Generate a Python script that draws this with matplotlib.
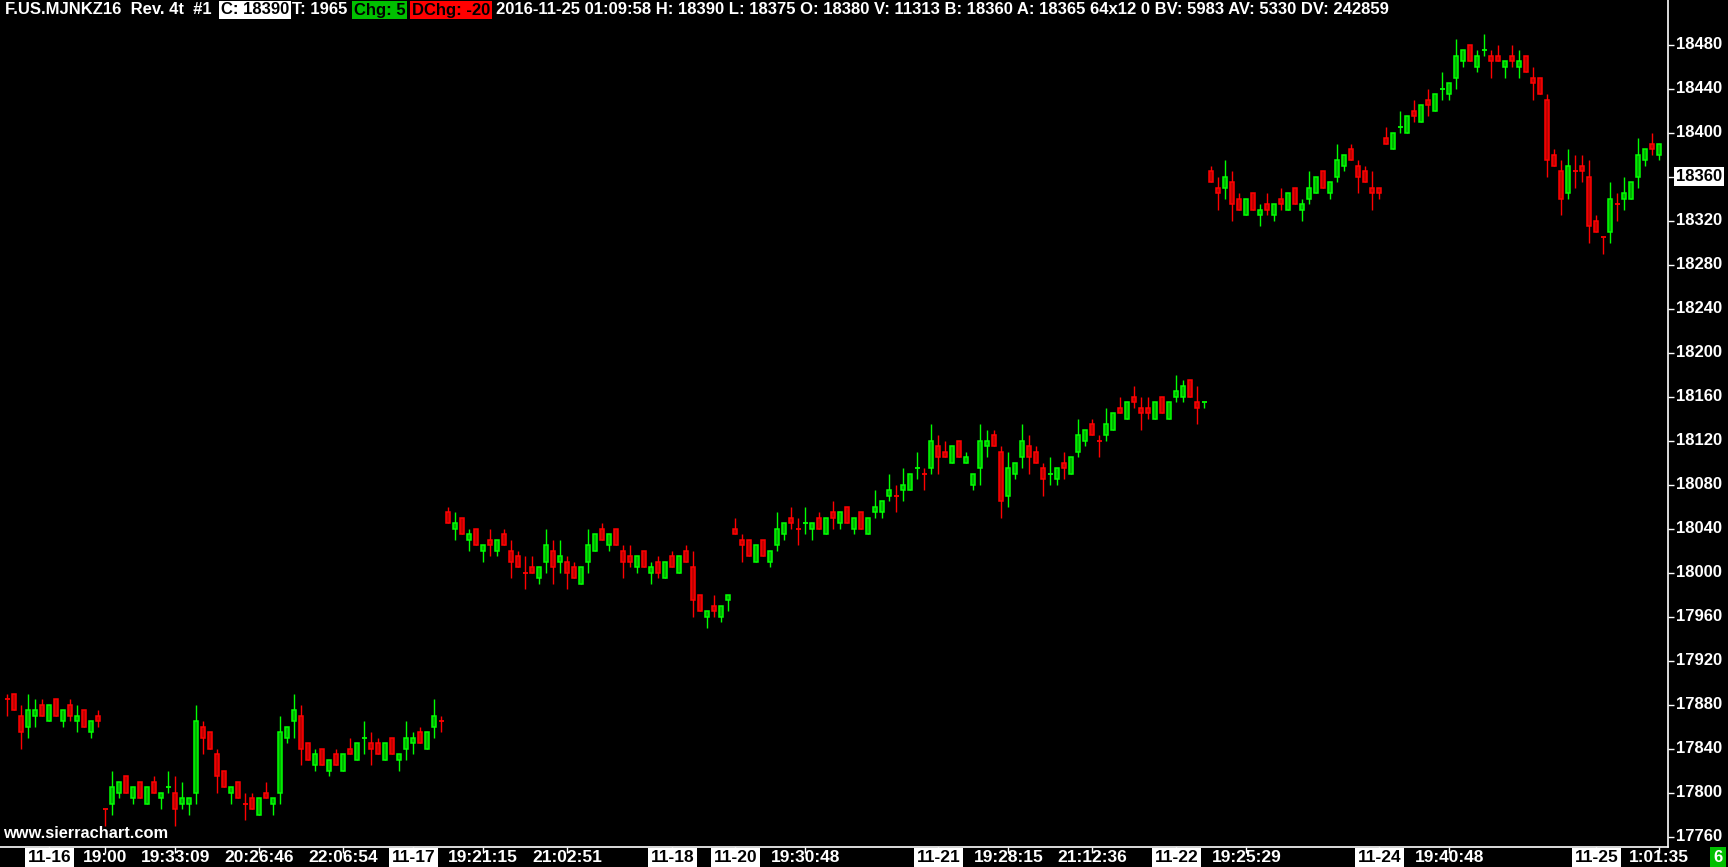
import matplotlib
matplotlib.use('Agg')
import matplotlib.pyplot as plt
import matplotlib.transforms as mtransforms
from matplotlib.patches import Rectangle
import numpy as np

# OHLC, one entry per bar (5-point ticks)
opens = [17885, 17890, 17870, 17860, 17870, 17880, 17865, 17885, 17865, 17880, 17865, 17875, 17855, 17870,
         17785, 17790, 17800, 17815, 17795, 17810, 17790, 17810, 17795, 17805, 17800, 17790, 17790, 17800,
         17860, 17855, 17835, 17820, 17800, 17810, 17790, 17795, 17780, 17800, 17790, 17800, 17850, 17865,
         17870, 17845, 17825, 17840, 17820, 17835, 17820, 17840, 17830, 17850, 17845, 17845, 17830, 17850,
         17830, 17840, 17845, 17855, 17840, 17860, 17865,
         18055, 18040, 18050, 18030, 18040, 18020, 18030, 18020, 18035, 18020, 18015, 18000, 18005, 17995,
         18010, 18020, 18010, 18010, 18005, 17990, 18010, 18020, 18040, 18025, 18040, 18020, 18015, 18005,
         18020, 18000, 18010, 17995, 18015, 18000, 18020, 18005, 17980, 17960, 17970, 17960, 17975,
         18040, 18030, 18030, 18010, 18030, 18010, 18025, 18035, 18050, 18040, 18045, 18040, 18050, 18035,
         18055, 18045, 18060, 18040, 18055, 18035, 18055, 18055, 18070, 18070, 18075, 18075, 18095, 18090,
         18095, 18115, 18110, 18100, 18120, 18100, 18080, 18095, 18115, 18125, 18110, 18070, 18090, 18105,
         18115, 18110, 18095, 18090, 18085, 18100, 18090, 18110, 18120, 18135, 18120, 18125, 18130, 18150,
         18140, 18160, 18150, 18150, 18140, 18160, 18140, 18160, 18160, 18175, 18155, 18155,
         18365, 18350, 18350, 18355, 18340, 18325, 18345, 18325, 18335, 18325, 18340, 18330, 18350, 18330,
         18340, 18345, 18365, 18345, 18360, 18370, 18385, 18370, 18365, 18350, 18350,
         18395, 18385, 18405, 18400, 18420, 18410, 18430, 18420, 18440, 18435, 18450, 18465, 18480, 18460,
         18475, 18470, 18470, 18460, 18470, 18460, 18470, 18450, 18450, 18430, 18380, 18365, 18345, 18365,
         18370, 18360, 18320, 18305, 18310, 18335, 18340, 18340, 18360, 18375, 18390, 18380]
highs = [17890, 17890, 17880, 17890, 17885, 17885, 17880, 17885, 17875, 17885, 17880, 17875, 17865, 17875,
         17785, 17820, 17810, 17815, 17805, 17810, 17805, 17815, 17800, 17820, 17815, 17810, 17795, 17880,
         17865, 17855, 17840, 17820, 17805, 17810, 17800, 17800, 17795, 17810, 17795, 17870, 17860, 17890,
         17880, 17845, 17840, 17840, 17830, 17840, 17835, 17850, 17845, 17865, 17855, 17850, 17845, 17850,
         17835, 17865, 17855, 17860, 17855, 17885, 17870,
         18060, 18055, 18050, 18040, 18040, 18025, 18040, 18030, 18040, 18030, 18020, 18015, 18015, 18005,
         18040, 18030, 18030, 18015, 18010, 18005, 18040, 18035, 18045, 18035, 18040, 18025, 18025, 18015,
         18020, 18010, 18015, 18010, 18020, 18015, 18025, 18020, 17980, 17965, 17980, 17970, 17980,
         18050, 18035, 18030, 18025, 18030, 18020, 18055, 18045, 18060, 18050, 18060, 18045, 18055, 18050,
         18065, 18055, 18060, 18050, 18055, 18050, 18075, 18065, 18090, 18080, 18095, 18090, 18110, 18095,
         18135, 18125, 18120, 18115, 18120, 18110, 18090, 18135, 18130, 18130, 18115, 18110, 18100, 18135,
         18125, 18115, 18100, 18105, 18095, 18110, 18105, 18140, 18130, 18140, 18125, 18150, 18145, 18160,
         18155, 18170, 18160, 18160, 18155, 18160, 18155, 18180, 18175, 18175, 18170, 18155,
         18370, 18360, 18375, 18365, 18345, 18340, 18345, 18335, 18345, 18335, 18350, 18345, 18350, 18340,
         18365, 18360, 18365, 18355, 18390, 18380, 18390, 18375, 18370, 18365, 18350,
         18405, 18400, 18420, 18415, 18430, 18425, 18440, 18435, 18455, 18445, 18485, 18475, 18480, 18475,
         18490, 18475, 18480, 18465, 18480, 18475, 18470, 18460, 18450, 18435, 18385, 18375, 18385, 18380,
         18380, 18375, 18325, 18305, 18355, 18345, 18360, 18355, 18395, 18385, 18400, 18390]
lows = [17870, 17875, 17840, 17850, 17860, 17870, 17865, 17870, 17860, 17865, 17855, 17860, 17850, 17860,
        17770, 17780, 17795, 17800, 17790, 17795, 17790, 17800, 17785, 17800, 17770, 17785, 17780, 17790,
        17835, 17840, 17800, 17805, 17790, 17795, 17775, 17785, 17780, 17795, 17780, 17790, 17845, 17850,
        17825, 17830, 17820, 17825, 17815, 17825, 17820, 17835, 17830, 17835, 17825, 17835, 17830, 17835,
        17820, 17830, 17835, 17845, 17840, 17850, 17855,
        18045, 18030, 18035, 18020, 18025, 18010, 18015, 18015, 18025, 17995, 18005, 17985, 18000, 17990,
        18000, 17990, 18000, 17985, 17995, 17990, 18000, 18020, 18030, 18020, 18025, 17995, 18005, 18000,
        18005, 17990, 17995, 17995, 18005, 18000, 18010, 17960, 17965, 17950, 17960, 17955, 17965,
        18035, 18010, 18015, 18010, 18015, 18005, 18020, 18030, 18040, 18025, 18035, 18030, 18040, 18035,
        18040, 18040, 18045, 18035, 18040, 18035, 18050, 18050, 18065, 18055, 18065, 18075, 18085, 18075,
        18090, 18090, 18105, 18100, 18105, 18100, 18075, 18080, 18105, 18115, 18050, 18060, 18085, 18095,
        18090, 18100, 18070, 18080, 18080, 18085, 18090, 18105, 18115, 18125, 18105, 18120, 18130, 18145,
        18140, 18150, 18130, 18140, 18140, 18145, 18140, 18155, 18155, 18160, 18135, 18150,
        18355, 18330, 18340, 18320, 18330, 18325, 18330, 18315, 18325, 18320, 18330, 18330, 18335, 18320,
        18335, 18345, 18350, 18340, 18355, 18365, 18375, 18345, 18355, 18330, 18340,
        18390, 18385, 18400, 18400, 18410, 18410, 18415, 18420, 18430, 18430, 18440, 18460, 18465, 18455,
        18470, 18450, 18465, 18450, 18460, 18450, 18455, 18430, 18435, 18360, 18370, 18325, 18340, 18350,
        18355, 18300, 18310, 18290, 18300, 18320, 18330, 18340, 18350, 18370, 18380, 18375]
closes = [17885, 17875, 17855, 17875, 17875, 17870, 17880, 17870, 17875, 17870, 17870, 17860, 17865, 17865,
          17785, 17805, 17810, 17800, 17805, 17795, 17805, 17800, 17800, 17805, 17785, 17795, 17795, 17865,
          17850, 17840, 17815, 17805, 17805, 17795, 17790, 17785, 17795, 17795, 17795, 17855, 17860, 17875,
          17840, 17830, 17835, 17825, 17830, 17825, 17835, 17835, 17845, 17850, 17840, 17835, 17845, 17835,
          17835, 17850, 17850, 17845, 17855, 17870, 17865,
          18045, 18045, 18035, 18035, 18025, 18025, 18025, 18030, 18025, 18010, 18005, 18000, 18000, 18005,
          18025, 18005, 18015, 18000, 17995, 18005, 18025, 18035, 18030, 18035, 18025, 18010, 18010, 18015,
          18005, 18005, 18000, 18010, 18005, 18015, 18010, 17975, 17965, 17965, 17965, 17970, 17980,
          18035, 18025, 18015, 18025, 18015, 18020, 18040, 18045, 18045, 18040, 18045, 18045, 18040, 18050,
          18050, 18055, 18045, 18050, 18040, 18050, 18060, 18065, 18075, 18070, 18080, 18090, 18095, 18090,
          18120, 18105, 18105, 18115, 18105, 18105, 18090, 18120, 18120, 18115, 18065, 18095, 18100, 18120,
          18105, 18100, 18085, 18090, 18095, 18095, 18105, 18125, 18130, 18125, 18120, 18135, 18145, 18145,
          18155, 18155, 18145, 18145, 18155, 18145, 18155, 18165, 18170, 18160, 18150, 18155,
          18355, 18345, 18360, 18335, 18330, 18340, 18330, 18330, 18330, 18335, 18335, 18345, 18335, 18335,
          18350, 18360, 18350, 18355, 18375, 18380, 18375, 18360, 18355, 18345, 18345,
          18390, 18400, 18405, 18415, 18415, 18425, 18425, 18435, 18440, 18445, 18470, 18475, 18465, 18470,
          18475, 18465, 18465, 18465, 18465, 18465, 18455, 18445, 18435, 18375, 18370, 18340, 18370, 18365,
          18365, 18315, 18310, 18305, 18340, 18335, 18345, 18355, 18380, 18385, 18385, 18390]

# time axis labels and the bar (1-based) each sits on
x_labels = ['11-16', '19:00', '19:33:09', '20:26:46', '22:06:54', '11-17', '19:21:15', '21:02:51',
            '11-18', '11-20', '19:30:48', '11-21', '19:28:15', '21:12:36', '11-22', '19:25:29',
            '11-24', '19:40:48', '11-25', '1:01:35']
x_label_bars = [7, 15, 25, 37, 49, 59, 69, 81, 96, 105, 115, 134, 144, 156, 168, 178, 197, 207, 228, 237]
y_ticks = list(range(17760, 18481, 40))
last_label = 18360

W, H = 1728, 867
FONT = 'Liberation Sans'
fig = plt.figure(figsize=(W / 100, H / 100), dpi=100, facecolor='black')
ax = fig.add_axes([0, 20 / H, 1668 / W, 847 / H], facecolor='black')
ax.set_xlim(-1.04, 237.24)
ax.set_ylim(17750.9, 18520.9)

n = len(opens)
edge_cols = []
for i in range(n):
    o, c = opens[i], closes[i]
    if c != o:
        up = c > o
    else:
        up = i > 0 and c > closes[i - 1]
    edge_cols.append('#00ff00' if up else '#ff0000')

ax.vlines(np.arange(n), lows, highs, colors=edge_cols, lw=1.0, zorder=1)
for i in range(n):
    o, c = opens[i], closes[i]
    up = edge_cols[i] == '#00ff00'
    if o == c:
        ax.hlines(o, i - 0.36, i + 0.36, color=edge_cols[i], lw=1.3, zorder=2)
    else:
        ax.add_patch(Rectangle((i - 0.3, min(o, c)), 0.6, abs(c - o),
                               facecolor='#00b000' if up else '#c00000',
                               edgecolor=edge_cols[i], lw=1.1, zorder=2))

for s in ['top', 'left']:
    ax.spines[s].set_visible(False)
for s in ['right', 'bottom']:
    ax.spines[s].set_color('white')
    ax.spines[s].set_linewidth(1.2)

ax.yaxis.tick_right()
ax.set_yticks(y_ticks)
ax.tick_params(axis='y', colors='white', length=4, width=1, labelright=False, labelleft=False)
ax.set_xticks([b - 1 for b in x_label_bars])
ax.tick_params(axis='x', colors='white', length=4, width=1, labelbottom=False)

ytr = mtransforms.blended_transform_factory(fig.transFigure, ax.transData)
for v in y_ticks:
    if v == last_label:
        continue
    ax.text(1676 / W, v, str(v), transform=ytr, color='white', fontsize=12, fontweight='bold',
            family=FONT, va='center', ha='left', clip_on=False)
ax.text(1676 / W, last_label, str(last_label), transform=ytr, color='black', fontsize=12,
        fontweight='bold', family=FONT, va='center', ha='left', clip_on=False,
        bbox=dict(boxstyle='square,pad=0.12', fc='white', ec='none'))

xtr = mtransforms.blended_transform_factory(ax.transData, fig.transFigure)
for lab, b in zip(x_labels, x_label_bars):
    is_date = len(lab) == 5 and lab[2] == '-'
    kw = dict(bbox=dict(boxstyle='square,pad=0.15', fc='white', ec='none')) if is_date else {}
    ax.text(b - 1, 9 / H, lab, transform=xtr, color='black' if is_date else 'white', fontsize=12.5,
            fontweight='bold', family=FONT, ha='center', va='center', clip_on=False, **kw)

# header line
hy = 1 - 10 / H
def head(xpx, s, fc=None, tc='white'):
    kw = dict(bbox=dict(boxstyle='square,pad=0.1', fc=fc, ec='none')) if fc else {}
    fig.text(xpx / W, hy, s, color=tc, fontsize=12, fontweight='bold', family=FONT,
             ha='left', va='center', **kw)

head(5, 'F.US.MJNKZ16  Rev. 4t  #1')
head(221, 'C: 18390', 'white', 'black')
head(292, 'T: 1965')
head(354, 'Chg: 5', '#00c000', 'black')
head(412, 'DChg: -20', '#ff0000', 'black')
head(496, '2016-11-25 01:09:58 H: 18390 L: 18375 O: 18380 V: 11313 B: 18360 A: 18365 64x12 0 '
          'BV: 5983 AV: 5330 DV: 242859')

fig.text(3 / W, 1 - 834 / H, 'www.sierrachart.com', color='white', fontsize=11.8, fontweight='bold',
         family=FONT, ha='left', va='center')
fig.text(1718 / W, 1 - 858 / H, '6', color='white', fontsize=12, fontweight='bold', family=FONT,
         ha='center', va='center', bbox=dict(boxstyle='square,pad=0.2', fc='#00c000', ec='none'))

fig.savefig('out.png', dpi=100, facecolor='black')
